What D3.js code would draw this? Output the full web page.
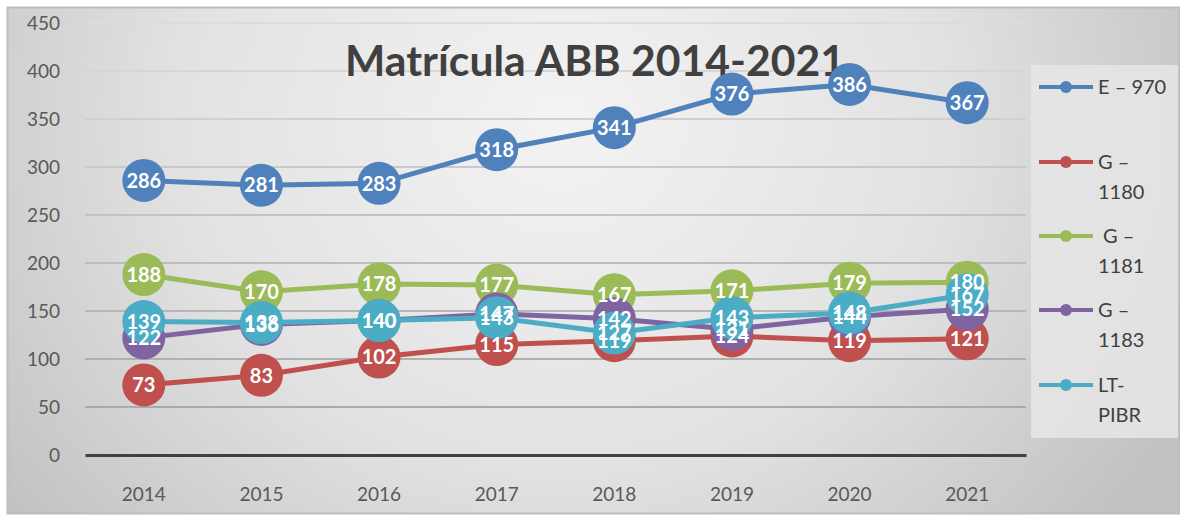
<!DOCTYPE html>
<html>
<head>
<meta charset="utf-8">
<script src="https://cdn.jsdelivr.net/npm/d3@7"></script>
<style>
  body { margin: 0; background: #fff; }
  text { font-family: Lato, "Open Sans", sans-serif; }
</style>
</head>
<body>
<div id="app"></div>
<script>
const years = ['2014', '2015', '2016', '2017', '2018', '2019', '2020', '2021']
const yTicks = [0, 50, 100, 150, 200, 250, 300, 350, 400, 450]

const e970 = [286, 281, 283, 318, 341, 376, 386, 367]
const g1180 = [73, 83, 102, 115, 119, 124, 119, 121]
const g1181 = [188, 170, 178, 177, 167, 171, 179, 180]
const g1183 = [122, 136, 140, 147, 142, 131, 144, 152]
const ltpibr = [139, 138, 140, 143, 127, 143, 148, 167]

const seriesNames = [['E – 970'], ['G –', '1180'], [' G –', '1181'], ['G –', '1183'], ['LT-', 'PIBR']]
const seriesColors = ['#4f81bd', '#c0504d', '#9bbb59', '#8064a2', '#4bacc6']
const series = [e970, g1180, g1181, g1183, ltpibr]

const W = 1180, H = 516
const plot = { left: 85, right: 1026, top: 23, bottom: 455 }

const svg = d3.select('#app').append('svg')
  .attr('width', W)
  .attr('height', H)

const defs = svg.append('defs')
const bg = defs.append('radialGradient')
  .attr('id', 'bg')
  .attr('gradientUnits', 'userSpaceOnUse')
  .attr('cx', 560).attr('cy', 120).attr('r', 700)
  .attr('gradientTransform', 'translate(560,120) scale(1,0.9) translate(-560,-120)')
bg.append('stop').attr('offset', 0).attr('stop-color', '#f3f3f3')
bg.append('stop').attr('offset', 0.55).attr('stop-color', '#e2e2e2')
bg.append('stop').attr('offset', 1).attr('stop-color', '#c2c2c2')

svg.append('rect')
  .attr('x', 7.5).attr('y', 7.5)
  .attr('width', 1172).attr('height', 506)
  .attr('fill', 'url(#bg)')
  .attr('stroke', '#bdbdbd')
  .attr('stroke-width', 2)

const x = d3.scaleBand()
  .domain(years)
  .range([plot.left, plot.right])

const y = d3.scaleLinear()
  .domain([0, 450])
  .range([plot.bottom, plot.top])

// gridlines, lighter toward the top
const gridColor = d3.interpolateRgb('#a4a4a4', '#dcdcdc')
svg.append('g')
  .selectAll('line')
  .data(yTicks.filter(d => d > 0))
  .enter().append('line')
  .attr('x1', plot.left).attr('x2', plot.right)
  .attr('y1', d => y(d)).attr('y2', d => y(d))
  .attr('stroke', d => gridColor(d / 450))
  .attr('stroke-width', 2)

// y axis labels
const yAxis = svg.append('g')
  .attr('transform', `translate(${plot.left - 25},0)`)
  .call(d3.axisLeft(y).tickValues(yTicks).tickSize(0).tickPadding(0))
yAxis.select('.domain').remove()
yAxis.selectAll('text')
  .attr('font-size', 19)
  .attr('fill', '#595959')
  .attr('dy', '0.35em')

// x axis
const xAxis = svg.append('g')
  .attr('transform', `translate(0,${plot.bottom})`)
  .call(d3.axisBottom(x).tickSize(0).tickPadding(33))
xAxis.select('.domain')
  .attr('stroke', '#404040')
  .attr('stroke-width', 3)
xAxis.selectAll('text')
  .attr('font-size', 19)
  .attr('fill', '#595959')

// title
const title = svg.append('text')
  .attr('x', 595).attr('y', 76)
  .attr('text-anchor', 'middle')
  .attr('font-weight', 'bold')
  .attr('font-size', 42)
  .attr('fill', '#404040')
  .text('Matrícula ABB 2014-2021')
const tw = title.node().getComputedTextLength()
title.attr('font-size', 42 * 500 / tw)

const line = d3.line()
  .x((d, i) => x(years[i]) + x.bandwidth() / 2)
  .y(d => y(d))

const lines = svg.append('g')
series.forEach((s, k) => {
  lines.append('path')
    .datum(s)
    .attr('d', line)
    .attr('fill', 'none')
    .attr('stroke', seriesColors[k])
    .attr('stroke-width', 5)
  lines.selectAll(null)
    .data(s)
    .enter().append('circle')
    .attr('cx', (d, i) => x(years[i]) + x.bandwidth() / 2)
    .attr('cy', d => y(d))
    .attr('r', 21.5)
    .attr('fill', seriesColors[k])
})

// data labels on top of everything
const labels = svg.append('g')
series.forEach((s, k) => {
  labels.selectAll(null)
    .data(s)
    .enter().append('text')
    .attr('x', (d, i) => x(years[i]) + x.bandwidth() / 2)
    .attr('y', d => y(d))
    .attr('dy', '0.36em')
    .attr('text-anchor', 'middle')
    .attr('font-size', 20)
    .attr('font-weight', 'bold')
    .attr('fill', '#fff')
    .text(d => d)
})

// legend
const legend = svg.append('g')
legend.append('rect')
  .attr('x', 1031).attr('y', 65)
  .attr('width', 147).attr('height', 373)
  .attr('fill', '#e6e6e6')
  .attr('opacity', 0.85)

const legendY = [87, 162, 236, 310, 385]
seriesNames.forEach((name, k) => {
  const g = legend.append('g').attr('transform', `translate(0,${legendY[k]})`)
  g.append('line')
    .attr('x1', 1039).attr('x2', 1093)
    .attr('stroke', seriesColors[k])
    .attr('stroke-width', 4)
  g.append('circle')
    .attr('cx', 1066).attr('r', 6)
    .attr('fill', seriesColors[k])
  g.append('text')
    .attr('x', 1098)
    .attr('font-size', 20)
    .attr('fill', '#404040')
    .attr('xml:space', 'preserve')
    .selectAll('tspan')
    .data(name)
    .enter().append('tspan')
    .attr('x', 1098)
    .attr('y', (d, i) => i * 30)
    .attr('dy', '0.35em')
    .text(d => d)
})
</script>
</body>
</html>
